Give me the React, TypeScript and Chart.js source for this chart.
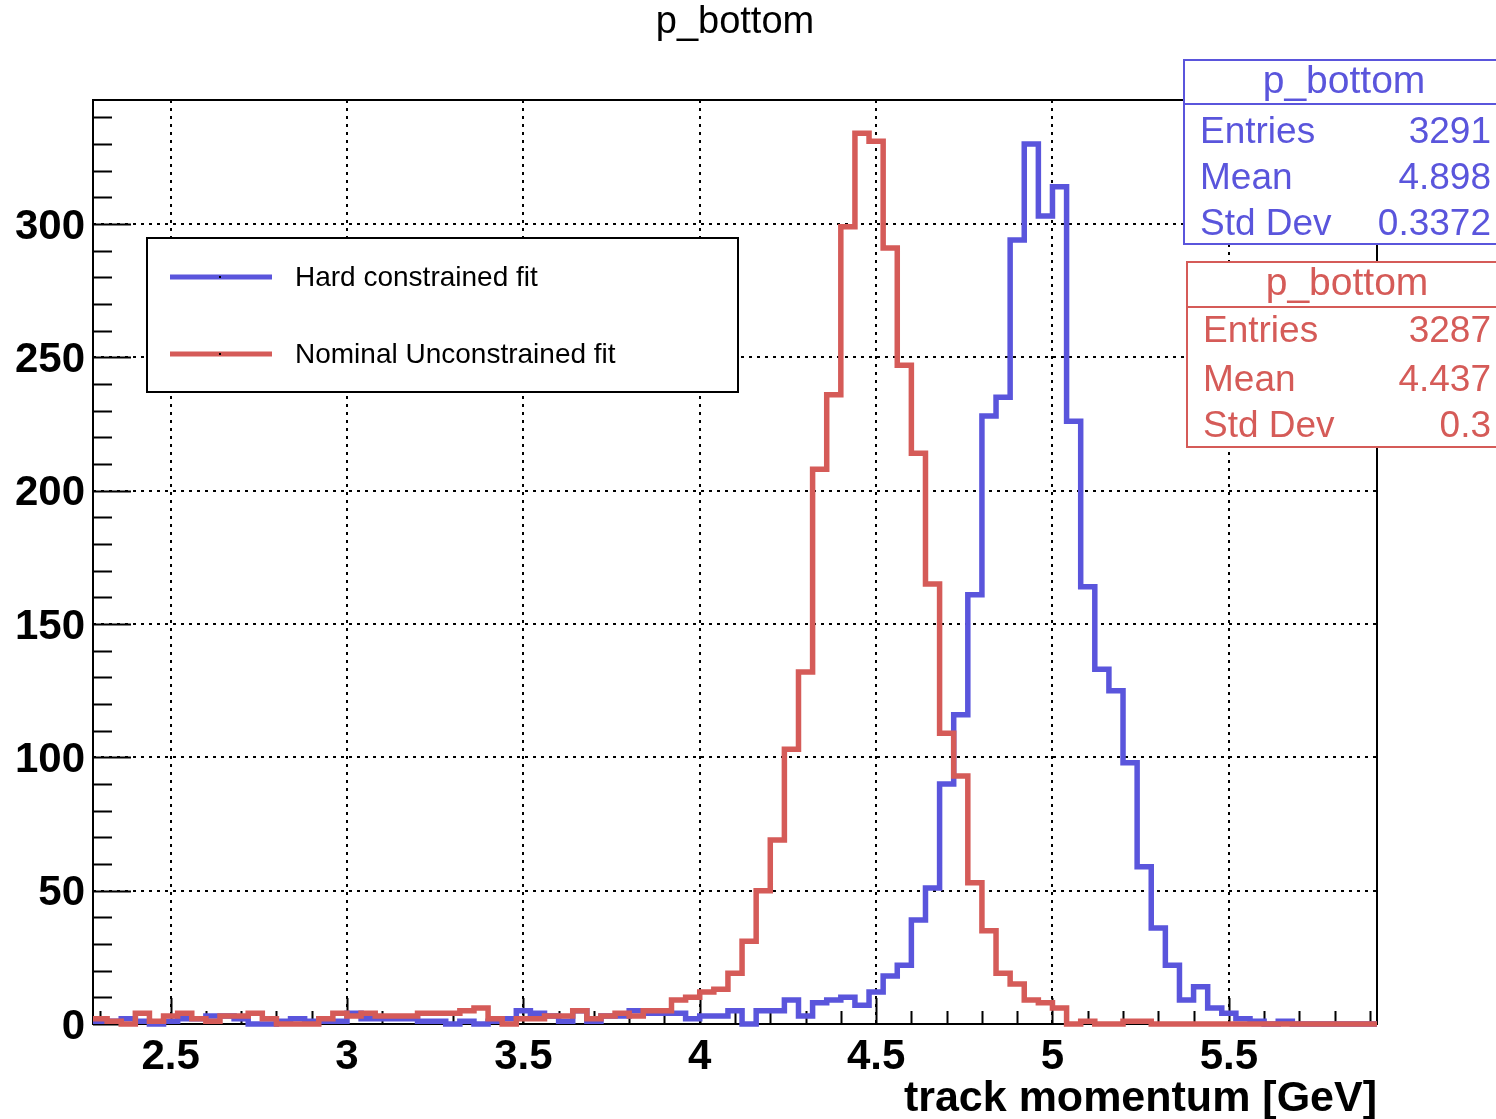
import React, { useEffect, useRef } from "react";
import { Chart, registerables } from "chart.js";

Chart.register(...registerables);

// ---- binning / axis ranges ----
const BIN_LOW = 2.28;
const BIN_WIDTH = 0.04;
const X_MIN = 2.28;
const X_MAX = 5.92;
const Y_MIN = 0;
const Y_MAX = 346.5;

// ---- histogram contents (91 bins of 0.04 GeV from 2.28 GeV) ----
const hardConstrained = [
  1, 1, 2, 1, 0, 1, 2, 2, 3, 3,
  2, 0, 0, 1, 2, 1, 1, 1, 4, 2,
  2, 2, 2, 1, 1, 0, 1, 0, 1, 2,
  5, 4, 3, 1, 5, 1, 3, 3, 5, 4,
  4, 4, 2, 3, 3, 5, 0, 5, 5, 9,
  3, 8, 9, 10, 7, 12, 18, 22, 39, 51,
  90, 116, 161, 228, 235, 294, 330, 303, 314, 226,
  164, 133, 125, 98, 59, 36, 22, 9, 14, 6,
  4, 2, 1, 0, 1, 0, 0, 0, 0, 0,
  0,
];

const nominalUnconstrained = [
  2, 1, 0, 4, 1, 3, 4, 2, 1, 3,
  3, 4, 2, 0, 0, 0, 2, 4, 3, 4,
  3, 3, 3, 4, 4, 4, 5, 6, 2, 0,
  2, 2, 3, 3, 5, 2, 3, 4, 3, 5,
  5, 9, 10, 12, 13, 19, 31, 50, 69, 103,
  132, 208, 236, 299, 334, 331, 291, 247, 214, 165,
  109, 93, 53, 35, 19, 15, 9, 8, 6, 0,
  1, 0, 0, 1, 1, 0, 0, 0, 0, 0,
  0, 0, 0, 0, 0, 0, 0, 0, 0, 0,
  0,
];

const xTickValues = [2.5, 3, 3.5, 4, 4.5, 5, 5.5];
const xTickLabels = ["2.5", "3", "3.5", "4", "4.5", "5", "5.5"];
const yTickValues = [0, 50, 100, 150, 200, 250, 300];
const yTickLabels = ["0", "50", "100", "150", "200", "250", "300"];

const seriesNames = ["Hard constrained fit", "Nominal Unconstrained fit"];
const statLabels = ["Entries", "Mean", "Std Dev"];
const hardStats = ["3291", "4.898", "0.3372"];
const nominalStats = ["3287", "4.437", "0.3"];

const TITLE = "p_bottom";
const X_TITLE = "track momentum [GeV]";

const BLUE = "#5a55dc";
const RED = "#d55b58";
const FONT = '"Liberation Sans", Arial, Helvetica, sans-serif';

function toSteps(values: number[]) {
  const pts = values.map((v, i) => ({ x: BIN_LOW + i * BIN_WIDTH, y: v }));
  pts.push({ x: BIN_LOW + values.length * BIN_WIDTH, y: values[values.length - 1] });
  return pts;
}

function findLabel(values: number[], labels: string[], v: number) {
  const i = values.findIndex((t) => Math.abs(t - v) < 1e-6);
  return i >= 0 ? labels[i] : "";
}

function drawStatBox(
  ctx: CanvasRenderingContext2D,
  color: string,
  left: number,
  top: number,
  sep: number,
  bottom: number,
  headerCx: number,
  headerBase: number,
  rowBases: number[],
  values: string[]
) {
  ctx.save();
  ctx.fillStyle = "#fff";
  ctx.fillRect(left, top, 1496 - left + 10, bottom - top);
  ctx.strokeStyle = color;
  ctx.lineWidth = 2;
  ctx.strokeRect(left, top, 1496 - left + 10, bottom - top);
  ctx.beginPath();
  ctx.moveTo(left, sep);
  ctx.lineTo(1500, sep);
  ctx.stroke();
  ctx.fillStyle = color;
  ctx.textBaseline = "alphabetic";
  ctx.font = `39px ${FONT}`;
  ctx.textAlign = "center";
  ctx.fillText(TITLE, headerCx, headerBase);
  ctx.font = `37px ${FONT}`;
  for (let i = 0; i < statLabels.length; i++) {
    ctx.textAlign = "left";
    ctx.fillText(statLabels[i], left + 16, rowBases[i]);
    ctx.textAlign = "right";
    ctx.fillText(values[i], 1491, rowBases[i]);
  }
  ctx.restore();
}

const decorPlugin = {
  id: "rootDecor",
  beforeDatasetsDraw(chart: any) {
    const { ctx, chartArea: a, scales } = chart;
    const xs = scales.x;
    const ys = scales.y;
    ctx.save();
    // frame
    ctx.strokeStyle = "#000";
    ctx.lineWidth = 2;
    ctx.strokeRect(a.left, a.top, a.right - a.left, a.bottom - a.top);
    // inward ticks
    ctx.beginPath();
    for (let k = 23; k <= 59; k++) {
      const px = Math.round(xs.getPixelForValue(k / 10)) + 0.5;
      const len = k % 5 === 0 ? 26 : 13;
      ctx.moveTo(px, a.bottom);
      ctx.lineTo(px, a.bottom - len);
    }
    for (let k = 0; k <= 34; k++) {
      const py = Math.round(ys.getPixelForValue(k * 10)) + 0.5;
      const len = k % 5 === 0 ? 38 : 19;
      ctx.moveTo(a.left, py);
      ctx.lineTo(a.left + len, py);
    }
    ctx.stroke();

    // legend
    const L = 147, T = 238, R = 738, B = 392;
    ctx.fillStyle = "#fff";
    ctx.fillRect(L, T, R - L, B - T);
    ctx.lineWidth = 2;
    ctx.strokeStyle = "#000";
    ctx.strokeRect(L, T, R - L, B - T);
    const rows = [
      { y: 277, color: BLUE, text: seriesNames[0] },
      { y: 354, color: RED, text: seriesNames[1] },
    ];
    for (const r of rows) {
      ctx.strokeStyle = r.color;
      ctx.lineWidth = 5;
      ctx.beginPath();
      ctx.moveTo(170, r.y);
      ctx.lineTo(272, r.y);
      ctx.stroke();
      ctx.fillStyle = "#000";
      ctx.fillRect(219, r.y - 1, 2, 2);
      ctx.font = `28px ${FONT}`;
      ctx.textAlign = "left";
      ctx.textBaseline = "middle";
      ctx.fillText(r.text, 295, r.y + 1);
    }
    ctx.restore();
  },
  afterDraw(chart: any) {
    const { ctx, chartArea: a } = chart;
    ctx.save();
    // title
    ctx.fillStyle = "#000";
    ctx.font = `38px ${FONT}`;
    ctx.textAlign = "center";
    ctx.textBaseline = "alphabetic";
    ctx.fillText(TITLE, 735, 33);
    // x axis title
    ctx.font = `bold 43px ${FONT}`;
    ctx.textAlign = "right";
    ctx.fillText(X_TITLE, a.right, 1111);
    ctx.restore();
    // stat boxes
    drawStatBox(ctx, BLUE, 1184, 60, 104, 244, 1344, 93, [143, 189, 235], hardStats);
    drawStatBox(ctx, RED, 1187, 262, 307, 447, 1347, 295, [342, 391, 437], nominalStats);
  },
};

export default function App() {
  const canvasRef = useRef<HTMLCanvasElement | null>(null);

  useEffect(() => {
    const canvas = canvasRef.current;
    if (!canvas) return;
    const chart = new Chart(canvas, {
      type: "line",
      data: {
        datasets: [
          {
            label: seriesNames[1],
            data: toSteps(nominalUnconstrained),
            borderColor: RED,
            borderWidth: 5.5,
            stepped: "before",
            pointRadius: 0,
            fill: false,
            clip: false,
            order: 0,
            borderJoinStyle: "miter",
            borderCapStyle: "butt",
          } as any,
          {
            label: seriesNames[0],
            data: toSteps(hardConstrained),
            borderColor: BLUE,
            borderWidth: 5.5,
            stepped: "before",
            pointRadius: 0,
            fill: false,
            clip: false,
            order: 1,
            borderJoinStyle: "miter",
            borderCapStyle: "butt",
          } as any,
        ],
      },
      options: {
        responsive: false,
        animation: false,
        devicePixelRatio: 1,
        layout: { padding: { top: 100, right: 119, left: 0, bottom: 0 } },
        plugins: {
          legend: { display: false },
          tooltip: { enabled: false },
          title: { display: false },
        },
        scales: {
          x: {
            type: "linear",
            min: X_MIN,
            max: X_MAX,
            afterFit: (s: any) => {
              s.height = 95;
            },
            grid: { color: "#000", lineWidth: 2, drawTicks: false },
            border: { display: false, dash: [3, 5] },
            ticks: {
              stepSize: 0.5,
              includeBounds: false,
              autoSkip: false,
              maxRotation: 0,
              color: "#000",
              padding: 8,
              font: { family: FONT, size: 42, weight: "bold" },
              callback: (v: any) => findLabel(xTickValues, xTickLabels, Number(v)),
            },
          },
          y: {
            type: "linear",
            min: Y_MIN,
            max: Y_MAX,
            afterFit: (s: any) => {
              s.width = 93;
            },
            grid: { color: "#000", lineWidth: 2, drawTicks: false },
            border: { display: false, dash: [3, 5] },
            ticks: {
              stepSize: 50,
              includeBounds: false,
              autoSkip: false,
              color: "#000",
              padding: 8,
              labelOffset: 3,
              font: { family: FONT, size: 42, weight: "bold" },
              callback: (v: any) => findLabel(yTickValues, yTickLabels, Number(v)),
            },
          },
        },
      } as any,
      plugins: [decorPlugin],
    });
    return () => chart.destroy();
  }, []);

  return (
    <div style={{ position: "absolute", left: 0, top: 0, width: 1496, height: 1119, background: "#fff" }}>
      <canvas ref={canvasRef} width={1496} height={1119} style={{ width: 1496, height: 1119, display: "block" }} />
    </div>
  );
}
